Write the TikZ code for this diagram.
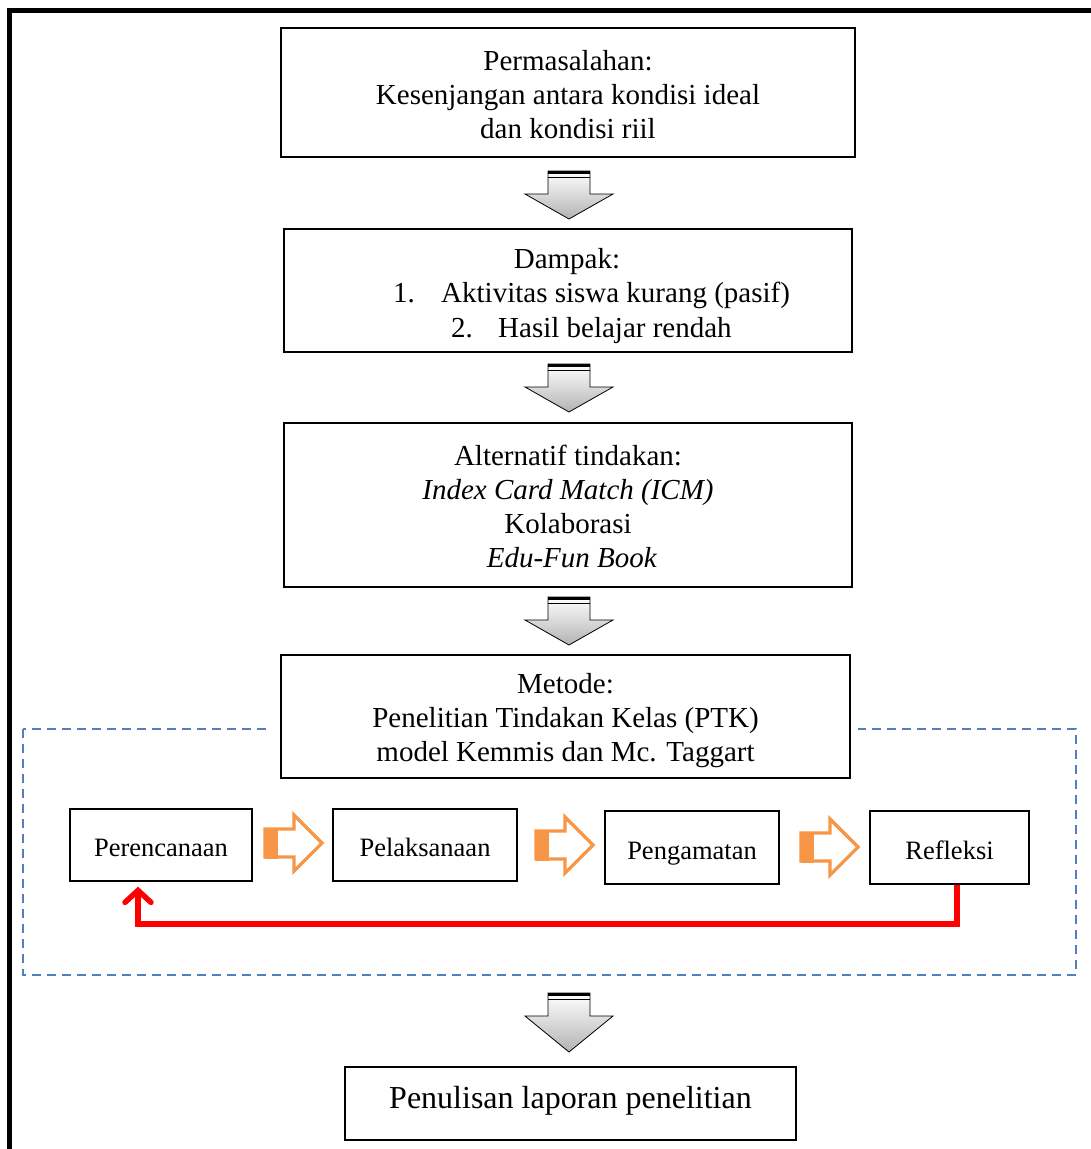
\documentclass[tikz,border=0pt]{standalone}
\usepackage{fontspec}
\setmainfont{Liberation Serif}
\usetikzlibrary{arrows.meta,calc}
\definecolor{orng}{RGB}{247,150,70}
\definecolor{dblue}{RGB}{79,129,189}
\begin{document}
\begin{tikzpicture}[x=1pt,y=-1pt,
  box/.style={draw, line width=1.3pt, fill=white, inner sep=0pt},
  sbox/.style={draw, line width=1.3pt, fill=white, inner sep=0pt, text height=23pt, text depth=0pt, font=\fontsize{26.5}{30}\selectfont},
  txt/.style={inner sep=0pt, align=center, font=\fontsize{29}{34}\selectfont},
  garrow/.pic={
    \shade[top color=white, bottom color=gray!60, draw=black, line width=0.8pt]
      (-21,0) -- (21,0) -- (21,23) -- (44,23) -- (0,#1) -- (-44,23) -- (-21,23) -- cycle;
    \draw[line width=3pt] (-21,1.5) -- (21,1.5);
    \draw[line width=1.4pt] (-21,6.5) -- (21,6.5);
  },
  oarrow/.pic={
    \draw[orng, line width=3.2pt, fill=white, line join=miter]
      (0,-14) -- (29,-14) -- (29,-28) -- (57,0) -- (29,28) -- (29,14) -- (0,14) -- cycle;
    \fill[orng] (0,-15.5) rectangle (13,15.5);
  }
]
\useasboundingbox (0,0) rectangle (1091,1149);
\fill[white] (0,0) rectangle (1091,1149);
% outer border
\draw[line width=5pt] (9.5,1149) -- (9.5,10.5) -- (1091,10.5);

% dashed region
\draw[dblue, line width=1.5pt, dash pattern=on 9pt off 6pt] (23,729) rectangle (1076,975);
\fill[white] (268,724) rectangle (858,734);

% main boxes
\node[box, minimum width=574pt, minimum height=129pt] (perm) at (568,92.5) {};
\node[txt] (permt) at (568,95) {Permasalahan:\\Kesenjangan antara kondisi ideal\\dan kondisi riil};

\node[box, minimum width=568pt, minimum height=123pt] (damp) at (568,290.5) {};
\node[txt, anchor=base] (d0) at (567,268) {Dampak:};
\node[txt, anchor=base west] (d1n) at (393,302) {1.};
\node[txt, anchor=base west] (d1) at (441,302) {Aktivitas siswa kurang (pasif)};
\node[txt, anchor=base west] (d2n) at (451,337) {2.};
\node[txt, anchor=base west] (d2) at (498,337) {Hasil belajar rendah};

\node[box, minimum width=568pt, minimum height=164pt] (alt) at (568,505) {};
\node[txt] (altt) at (568,506.5) {Alternatif tindakan:\\\textit{Index Card Match (ICM)}\\Kolaborasi\\\hspace*{8pt}\textit{Edu-Fun Book}};

\node[box, minimum width=569pt, minimum height=123pt] (met) at (565.5,716.5) {};
\node[txt] (mett) at (565.5,720.5) {Metode:\\Penelitian Tindakan Kelas (PTK)\\model Kemmis dan Mc. Taggart};

\node[box, minimum width=451pt, minimum height=73pt] (lap) at (570.5,1103.5) {};
\node[txt, font=\fontsize{32}{36}\selectfont] (lapt) at (570.5,1100.5) {Penulisan laporan penelitian};

% gray arrows
\pic at (569,171) {garrow=48};
\pic at (569,364) {garrow=48};
\pic at (569,597) {garrow=48};
\pic at (569,993) {garrow=59};

% cycle boxes
\node[sbox, minimum width=182pt, minimum height=72pt] (ren) at (161,845) {Perencanaan};
\node[sbox, minimum width=184pt, minimum height=72pt] (pel) at (425,845) {Pelaksanaan};
\node[sbox, minimum width=174pt, minimum height=73pt] (pen) at (692,847.5) {Pengamatan};
\node[sbox, minimum width=159pt, minimum height=73pt] (ref) at (949.5,847.5) {Refleksi};

% orange arrows
\pic at (265,843) {oarrow};
\pic at (536,845) {oarrow};
\pic at (801,847) {oarrow};

% red feedback arrow
\coordinate (rs) at ($(ref.south)+(7.5,0)$);
\coordinate (re) at ($(ren.south)+(-23,5)$);
\draw[red, line width=5.5pt, -{Straight Barb[length=12pt,width=26pt,line cap=round]}]
  (rs) -- (rs |- 0,924) -- (re |- 0,924) -- (re);
\end{tikzpicture}
\end{document}
